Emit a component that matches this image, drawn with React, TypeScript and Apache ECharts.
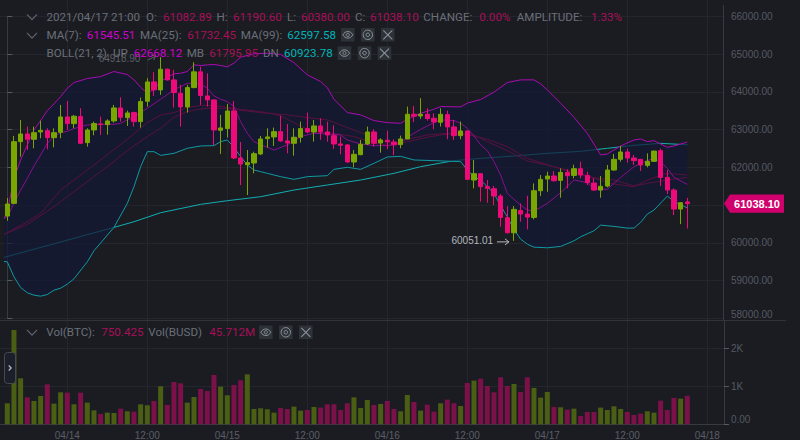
import React, { useEffect, useRef } from "react";
import * as echarts from "echarts";

const opens = [
  60708,61045,62680,62883,62742,62936,62971,62786,62927,63334,
  63157,63343,62653,62989,63148,63131,63228,63573,63316,63449,
  63210,63750,64262,64050,64598,64315,63962,63599,64112,64528,
  63891,63785,62980,63025,63493,62246,62070,62114,62353,62760,
  62804,62945,62698,62636,62795,63025,62937,63096,62937,62839,
  62618,62592,62141,62335,62618,62937,62645,62716,62671,62601,
  62751,63405,63361,63405,63299,63193,63396,63069,62839,62963,
  61663,61831,61487,61433,61238,60663,60266,60858,60761,60672,
  61380,61689,61769,61654,61866,61786,61963,61786,61583,61397,
  61504,61928,62211,62405,62246,62211,62052,62158,62441,61733,
  61397,60893,61082.89,
];
const closes = [
  61027,62679,62883,62742,62918,62980,62786,62918,63334,63157,
  63352,62635,62989,63157,63131,63228,63573,63325,63440,63210,
  63741,64262,64050,64598,64315,63980,63599,64112,64528,63900,
  63785,62989,63042,63493,62246,62087,62123,62361,62750,62804,
  62945,62698,62645,62795,63025,62937,63096,62937,62857,62618,
  62583,62141,62344,62609,62937,62636,62724,62680,62601,62751,
  63405,63352,63405,63290,63202,63405,63069,62839,62963,61681,
  61831,61487,61442,61239,60672,60266,60885,60761,60681,61380,
  61680,61769,61645,61866,61778,61963,61795,61592,61397,61495,
  61928,62211,62405,62246,62176,62061,62158,62430,61733,61397,
  60893,61061,61038.10,
];
const lows = [
  60584,61027,62282,62459,62503,62768,62476,62529,62768,62989,
  63033,62620,62547,62848,62857,62865,63184,63210,63095,63078,
  63051,63608,63891,63918,64298,63582,63078,63449,64094,63652,
  63608,62591,62353,62786,62220,61530,61265,61840,62326,62521,
  62565,62680,62371,62309,62654,62901,62680,62724,62680,62486,
  62344,62123,62000,62318,62592,62548,62388,62477,62318,62503,
  62742,63193,63281,63237,63007,63078,62742,62724,62742,61663,
  61442,61089,61062,61000,60425,60248,60051.01,60557,60354,60619,
  61238,61353,61618,61194,61442,61707,61707,61530,61380,61194,
  61468,61910,62149,62122,62061,61901,61999,62140,61504,61291,
  60734,60495,60380,
];
const highs = [
  61186,62830,63254,63078,63078,63237,63033,63033,63652,63758,
  63387,63564,63033,63210,63343,63272,63652,63856,63502,63475,
  63847,64360,64519,64918.90,64620,64581,64183,64183,64784,64669,
  64492,63800,63387,63679,63758,62671,62459,62414,62830,63034,
  63052,63370,63149,63034,63211,63449,63255,63299,63211,63113,
  62813,62610,62459,62724,63078,63007,62769,62972,62742,62839,
  63609,63626,63830,63564,63432,63564,63503,63255,63211,62981,
  62194,61850,61663,61504,61291,60973,60973,61044,61247,61574,
  61795,61884,61901,61972,61946,62069,62149,61884,61707,61769,
  62061,62352,62565,62494,62326,62220,62370,62440,62494,61928,
  61442,61075,61190.60,
];
const volumes = [
  553,2482,1210,710,614,745,1052,544,842,833,
  526,833,570,368,272,307,298,412,342,333,
  526,500,614,1000,509,1114,1079,570,719,930,
  877,1298,991,763,1035,1158,1316,403,421,395,
  307,430,403,465,360,377,456,439,526,526,
  377,553,710,430,640,509,535,614,403,342,
  772,588,360,517,333,553,649,553,482,1087,
  1149,1201,1009,842,1237,1009,1061,851,1237,956,
  702,851,456,447,386,412,219,324,324,439,
  377,474,403,324,245,281,342,307,623,377,
  693,675,750.425,
];

// [candle index, price] readings along each indicator line
const bollUp = [[-0.5,60646],[0,60823],[1,61707],[2,62194],[3,62592],[4,62989],[5,63237],[6,63502],[7,63679],[8,63873],[9,64094],[10,64245],[12,64351],[14,64404],[16,64537],[18,64457],[19,64316],[20,64121],[21,63962],[22,64068],[23,64271],[24,64386],[25,64475],[26,64492],[27,64537],[28,64713],[29,64696],[30,64713],[31,64722],[32,64696],[33,64660],[34,64758],[35,64917],[37,65006],[39,65023],[41,64990],[43,64770],[45,64450],[47,64272],[48,64110],[49,63800],[51,63450],[53,63388],[55,63237],[57,63184],[59,63166],[60,63273],[62,63432],[64,63538],[65,63609],[68,63600],[69,63700],[71,63795],[73,63990],[75,64245],[77,64316],[79,64316],[80,64210],[81,64050],[83,63696],[85,63325],[87,62900],[89,62326],[90,62352],[92,62565],[94,62724],[95,62750],[96,62680],[97,62706],[99,62529],[100,62565],[102,62668.12]];
const bollDn = [[-0.5,59506],[0,59497],[1,59099],[2,58816],[3,58675],[4,58613],[5,58586],[6,58630],[7,58745],[8,58798],[9,58905],[10,59046],[12,59497],[13,59789],[16,60408],[18,61044],[19,61486],[20,62017],[21,62414],[22,62414],[23,62317],[25,62370],[27,62503],[29,62565],[31,62574],[32,62680],[33,62724],[34,62529],[35,62282],[36,62061],[37,61928],[38,61884],[39,61840],[41,61752],[43,61681],[45,61752],[48,61778],[49,61946],[51,62000],[53,61946],[55,62105],[57,62273],[59,62291],[61,62194],[64,62176],[68,62150],[69,61929],[70,61752],[71,61663],[73,61310],[74,60980],[75,60691],[76,60350],[77,60098],[78,59965],[79,59885],[81,59868],[83,59903],[85,60053],[86,60159],[88,60319],[89,60469],[91,60434],[93,60390],[94,60390],[95,60540],[96,60761],[97,60867],[99,61238],[100,61097],[102,60923.78]];
const bollMb = [[-0.5,60222],[3,60558],[5,60779],[8,61398],[13,62061],[18,62742],[21,63184],[23,63387],[25,63449],[27,63582],[29,63635],[31,63635],[33,63590],[35,63537],[37,63493],[39,63449],[41,63361],[43,63184],[46,62919],[49,62901],[52,62813],[55,62636],[58,62565],[60,62680],[63,62795],[66,62884],[68,62901],[70,62857],[72,62679],[75,62441],[78,62167],[81,62060],[85,61857],[88,61707],[91,61556],[94,61486],[96,61663],[99,61840],[102,61795.95]];
const ma7 = [[-0.5,60646],[0,60691],[1,61044],[2,61398],[3,61707],[4,62035],[5,62326],[6,62636],[7,62813],[8,62919],[9,62954],[10,63025],[12,63122],[14,63139],[16,63139],[17,63166],[19,63343],[21,63564],[23,63803],[25,64050],[27,64227],[29,64209],[30,64094],[31,63891],[32,63803],[33,63741],[34,63608],[35,63210],[36,62901],[37,62680],[38,62600],[40,62459],[42,62592],[44,62813],[46,62901],[48,62884],[50,62857],[51,62724],[53,62618],[55,62574],[57,62574],[59,62636],[60,62795],[62,63007],[64,63184],[65,63255],[67,63237],[68,63166],[69,63034],[70,62830],[71,62592],[72,62441],[73,62150],[74,61796],[75,61309],[76,61150],[77,60999],[78,60867],[79,60849],[80,60938],[81,61044],[83,61327],[85,61663],[87,61592],[88,61424],[90,61415],[92,61733],[94,62016],[96,62176],[97,62237],[98,62149],[99,61972],[100,61733],[102,61545.51]];
const ma25 = [[-0.5,60222],[3,60487],[7,60956],[10,61354],[13,61752],[15,62017],[18,62441],[21,62813],[23,63033],[25,63325],[27,63475],[29,63546],[31,63573],[33,63555],[36,63490],[39,63432],[42,63388],[45,63317],[48,63255],[50,63122],[53,62919],[56,62707],[58,62618],[60,62742],[63,62857],[66,62901],[68,62875],[70,62830],[72,62741],[75,62547],[78,62237],[82,62016],[85,61884],[88,61725],[91,61663],[94,61504],[96,61574],[99,61663],[102,61732.45]];
const ma99 = [[-0.5,59612],[16,60408],[19,60558],[23,60797],[29,61018],[33,61115],[38,61221],[43,61398],[48,61531],[53,61663],[58,61840],[62,62017],[67,62175],[71,62237],[76,62299],[81,62370],[86,62423],[90,62503],[94,62582],[98,62635],[102,62597.58]];

const priceTicks = { min: 58000, max: 66000, step: 1000 };
const volumeTicks = [0, 1000, 2000];
const timeTicks: Record<number, string> = {
  9: "04/14", 21: "12:00", 33: "04/15", 45: "12:00", 57: "04/16", 69: "12:00", 81: "04/17", 93: "12:00", 105: "04/18",
};
const lastPrice = "61038.10";
const coveredPriceTick = 61000; // its label lies under the last-price tag in the reference
const highLabel = "64918.90";
const lowLabel = "60051.01";

const GREY = "#6a6f78";
const PINK = "#a80f58";
const MAGENTA = "#d000d0";
const CYAN = "#00b4b8";
const BG = "#1a1c22";

// text, x, colour per header row
const headerRow1 = [
  ["2021/04/17 21:00", 46.5, GREY], ["O:", 146, GREY], ["61082.89", 163, PINK], ["H:", 216.5, GREY], ["61190.60", 233, PINK],
  ["L:", 287, GREY], ["60380.00", 301, PINK], ["C:", 355, GREY], ["61038.10", 370, PINK],
  ["CHANGE:", 423.3, GREY], ["0.00%", 479.3, PINK], ["AMPLITUDE:", 516.7, GREY], ["1.33%", 591, PINK],
];
const headerRow2 = [
  ["MA(7):", 46.5, GREY], ["61545.51", 86.7, MAGENTA], ["MA(25):", 140, GREY], ["61732.45", 187.3, PINK],
  ["MA(99):", 240.7, GREY], ["62597.58", 287.3, CYAN],
];
const headerRow3 = [
  ["BOLL(21, 2)", 46.5, GREY], ["UP", 113, GREY], ["62668.12", 133.7, MAGENTA], ["MB", 186.7, GREY],
  ["61795.95", 209.3, PINK], ["DN", 263, GREY], ["60923.78", 284, CYAN],
];
const volRow = [
  ["Vol(BTC):", 46.3, GREY], ["750.425", 101.3, PINK], ["Vol(BUSD)", 148.3, GREY], ["45.712M", 209.3, PINK],
];

echarts.graphic.registerShape("eyeIcon", echarts.graphic.extendPath("M-5 0C-2.5 -4.4 2.5 -4.4 5 0C2.5 4.4 -2.5 4.4 -5 0Z", {}) as any);

const FONT = "11.6px Roboto, sans-serif";
const AXIS_FONT = "Liberation Sans";

function textRow(row: any[], y: number) {
  return row.map((r) => ({
    type: "text", x: r[1], y, z: 20,
    style: { text: r[0], fill: r[2], font: FONT, verticalAlign: "middle", align: "left" },
  }));
}

function chevron(cx: number, cy: number) {
  return {
    type: "polyline", z: 20,
    shape: { points: [[cx - 5, cy - 2.7], [cx, cy + 2.7], [cx + 5, cy - 2.7]] },
    style: { stroke: "#5f646c", lineWidth: 1.2, fill: "none" },
  };
}

function iconButtons(xs: number[], top: number, h: number) {
  const out: any[] = [];
  const s = "#8d939a";
  xs.forEach((x, k) => {
    const cx = x + 6.8, cy = top + h / 2;
    out.push({ type: "rect", z: 20, shape: { x, y: top, width: 13.6, height: h }, style: { fill: "#2d3238" } });
    if (k === 0) {
      out.push({ type: "eyeIcon", z: 21, x: cx, y: cy, style: { fill: "none", stroke: s, lineWidth: 1 } });
      out.push({ type: "circle", z: 21, shape: { cx, cy, r: 1.6 }, style: { fill: "none", stroke: s, lineWidth: 1 } });
    } else if (k === 1) {
      out.push({ type: "circle", z: 21, shape: { cx, cy, r: 4.7 }, style: { fill: "none", stroke: s, lineWidth: 1 } });
      out.push({ type: "circle", z: 21, shape: { cx, cy, r: 1.8 }, style: { fill: "none", stroke: s, lineWidth: 1 } });
    } else {
      out.push({ type: "line", z: 21, shape: { x1: cx - 4.5, y1: cy - 4.5, x2: cx + 4.5, y2: cy + 4.5 }, style: { stroke: s, lineWidth: 1.1 } });
      out.push({ type: "line", z: 21, shape: { x1: cx + 4.5, y1: cy - 4.5, x2: cx - 4.5, y2: cy + 4.5 }, style: { stroke: s, lineWidth: 1.1 } });
    }
  });
  return out;
}

function lineSeries(name: string, data: number[][], color: string, z: number) {
  return {
    name, type: "line", xAxisIndex: 1, yAxisIndex: 0, data, z,
    symbol: "none", smooth: false, silent: true,
    lineStyle: { color, width: 1 },
  };
}

export default function App() {
  const ref = useRef<HTMLDivElement>(null);
  useEffect(() => {
    const chart = echarts.init(ref.current!, undefined, { renderer: "svg" });

    const count = 109; // one pad slot, 103 candles, five empty slots on the right
    const categories = Array.from({ length: count }, (_, k) => timeTicks[k - 1] ?? "");
    const isTick = (_: number, v: string) => v !== "";
    const candleData = opens.map((o, i) => [i + 1, o, closes[i], lows[i], highs[i]]);
    const volData = volumes.map((v, i) => ({
      value: [i + 1, v],
      itemStyle: { color: closes[i] >= opens[i] ? "#4a5f14" : "#7b1148" },
    }));

    const GRID_LEFT = -2.7, GRID_W = 726.67;
    const splitColor = "#23262c";
    const axisColor = "#363a41";

    chart.setOption({
      animation: false,
      backgroundColor: BG,
      grid: [
        { left: GRID_LEFT, width: GRID_W, top: 16.3, height: 302, outerBoundsMode: "none" },
        { left: GRID_LEFT, width: GRID_W, top: 321, height: 103.3, outerBoundsMode: "none" },
        { left: GRID_LEFT, width: GRID_W, top: 0, height: 320.5, outerBoundsMode: "none" },
      ],
      xAxis: [
        { type: "category", gridIndex: 0, data: categories, show: false },
        { type: "value", gridIndex: 0, min: -1.5, max: 107.5, show: false },
        {
          type: "category", gridIndex: 1, data: categories,
          axisLine: { lineStyle: { color: axisColor } },
          axisTick: { interval: isTick, alignWithLabel: true, length: 5, lineStyle: { color: "#565a61" } },
          axisLabel: { interval: isTick, color: "#5a5e66", fontFamily: AXIS_FONT, fontSize: 10, margin: 7, lineHeight: 8 },
          splitLine: { show: true, interval: isTick, alignWithLabel: true, lineStyle: { color: splitColor } },
        },
        {
          type: "category", gridIndex: 2, data: categories,
          axisLine: { show: false }, axisTick: { show: false }, axisLabel: { show: false },
          splitLine: { show: true, interval: isTick, alignWithLabel: true, lineStyle: { color: splitColor } },
        },
      ],
      yAxis: [
        {
          type: "value", gridIndex: 0, position: "right", min: priceTicks.min, max: priceTicks.max, interval: priceTicks.step,
          axisLine: { show: true, lineStyle: { color: axisColor } },
          axisTick: { show: true, length: 5, lineStyle: { color: "#565a61" } },
          axisLabel: {
            color: "#555961", fontFamily: AXIS_FONT, fontSize: 10, margin: 7, lineHeight: 8,
            formatter: (v: number) => (v === coveredPriceTick ? "" : v.toFixed(2)), verticalAlignMinLabel: "bottom",
          },
          splitLine: { show: true, lineStyle: { color: splitColor } },
        },
        {
          type: "value", gridIndex: 1, position: "right", min: 0, max: 2718, interval: 1000,
          axisLine: { show: true, lineStyle: { color: axisColor } },
          axisTick: { show: true, length: 5, customValues: volumeTicks, lineStyle: { color: "#565a61" } },
          axisLabel: {
            color: "#555961", fontFamily: AXIS_FONT, fontSize: 10, margin: 7, lineHeight: 10,
            customValues: volumeTicks,
            formatter: (v: number) => (v === 0 ? "0.00" : `${v / 1000}K`), verticalAlignMinLabel: "bottom",
          },
          splitLine: { show: true, lineStyle: { color: splitColor } },
        },
        { type: "value", gridIndex: 2, min: 0, max: 1, show: false, splitLine: { show: false } },
      ],
      series: [
        lineSeries("MA(99)", ma99, "#12aeb2", 2),
        {
          name: "BOLL band", type: "custom", xAxisIndex: 1, yAxisIndex: 0, z: 3, silent: true,
          data: [[0, 60000]], encode: { x: 0, y: 1 },
          renderItem: (_: any, api: any) => ({
            type: "polygon",
            shape: { points: [...bollUp, ...[...bollDn].reverse()].map((p) => api.coord(p)) },
            style: { fill: "rgba(20,25,54,0.72)" },
          }),
        },
        lineSeries("BOLL MB", bollMb, "#57123f", 4),
        lineSeries("MA(25)", ma25, "#57123f", 4),
        lineSeries("MA(7)", ma7, "#86108e", 4),
        lineSeries("BOLL UP", bollUp, "#aa0cb2", 4),
        lineSeries("BOLL DN", bollDn, "#0f9aa2", 4),
        {
          name: "K", type: "candlestick", xAxisIndex: 0, yAxisIndex: 0, z: 5, silent: true,
          data: candleData, encode: { x: 0, y: [1, 2, 3, 4] },
          barWidth: 5,
          itemStyle: { color: "#7aa600", color0: "#ee0a78", borderColor: "#7aa600", borderColor0: "#ee0a78", borderWidth: 1 },
        },
        {
          name: "Vol", type: "bar", xAxisIndex: 2, yAxisIndex: 1, data: volData, barWidth: 5, silent: true,
          encode: { x: 0, y: 1 },
        },
        {
          name: "Notes", type: "custom", xAxisIndex: 1, yAxisIndex: 0, z: 6, silent: true, clip: false,
          data: [[102, 61038.1]], encode: { x: 0, y: 1 },
          renderItem: (_: any, api: any) => {
            const tagY = api.coord([102, parseFloat(lastPrice)])[1];
            const hi = api.coord([23, highs[23]]);
            const lo = api.coord([76, lows[76]]);
            return {
              type: "group",
              children: [
                {
                  type: "polygon",
                  shape: { points: [[724, tagY], [730, tagY - 9.2], [784, tagY - 9.2], [784, tagY + 9.2], [730, tagY + 9.2]] },
                  style: { fill: "#d0006c" },
                },
                {
                  type: "text", x: 757, y: tagY,
                  style: { text: lastPrice, fill: "#ffffff", font: `bold 11px ${AXIS_FONT}`, align: "center", verticalAlign: "middle" },
                },
                {
                  type: "text", x: hi[0] - 62, y: hi[1] + 1,
                  style: { text: highLabel, fill: "#5d6067", font: `10px ${AXIS_FONT}`, align: "left", verticalAlign: "middle" },
                },
                { type: "line", shape: { x1: hi[0] - 13, y1: hi[1] + 3, x2: hi[0] - 5, y2: hi[1] - 1 }, style: { stroke: "#5d6067", lineWidth: 1 } },
                { type: "polyline", shape: { points: [[hi[0] - 9, hi[1] - 2], [hi[0] - 5, hi[1] - 1], [hi[0] - 7, hi[1] + 3]] }, style: { stroke: "#5d6067", lineWidth: 1, fill: "none" } },
                {
                  type: "text", x: lo[0] - 62.5, y: lo[1],
                  style: { text: lowLabel, fill: "#b4b6ba", font: `10px ${AXIS_FONT}`, align: "left", verticalAlign: "middle" },
                },
                { type: "line", shape: { x1: lo[0] - 17, y1: lo[1] + 1, x2: lo[0] - 5, y2: lo[1] + 1 }, style: { stroke: "#b4b6ba", lineWidth: 1 } },
                { type: "polyline", shape: { points: [[lo[0] - 9, lo[1] - 2], [lo[0] - 5, lo[1] + 1], [lo[0] - 9, lo[1] + 4]] }, style: { stroke: "#b4b6ba", lineWidth: 1, fill: "none" } },
              ],
            };
          },
        },
      ],
      graphic: { elements: [
        { type: "line", z: 1, shape: { x1: 0, y1: 320.5, x2: 786, y2: 320.5 }, style: { stroke: "#30333a", lineWidth: 1 } },
        { type: "line", z: 1, shape: { x1: 723.5, y1: 5, x2: 723.5, y2: 320 }, style: { stroke: axisColor, lineWidth: 1 } },
        ...textRow(headerRow1, 17), ...textRow(headerRow2, 35), ...textRow(headerRow3, 53), ...textRow(volRow, 332),
        chevron(32, 17), chevron(32, 35.5), chevron(32, 332.5),
        ...iconButtons([341, 361, 381], 28, 13.6),
        ...iconButtons([337.7, 357.7, 377.7], 46.3, 13.6),
        ...iconButtons([259, 279, 299], 325.5, 13.6),
        {
          type: "rect", z: 20, shape: { x: 4.5, y: 352.5, width: 11, height: 31, r: 3 },
          style: { fill: "#1b1f29", stroke: "#454a52", lineWidth: 1 },
        },
        {
          type: "polyline", z: 21, shape: { points: [[8.7, 365.5], [11.2, 368], [8.7, 370.5]] },
          style: { stroke: "#b8bcc2", lineWidth: 1.2, fill: "none" },
        },
      ] },
    });
    return () => chart.dispose();
  }, []);
  return <div ref={ref} style={{ position: "fixed", left: 0, top: 0, width: 800, height: 440 }} />;
}
